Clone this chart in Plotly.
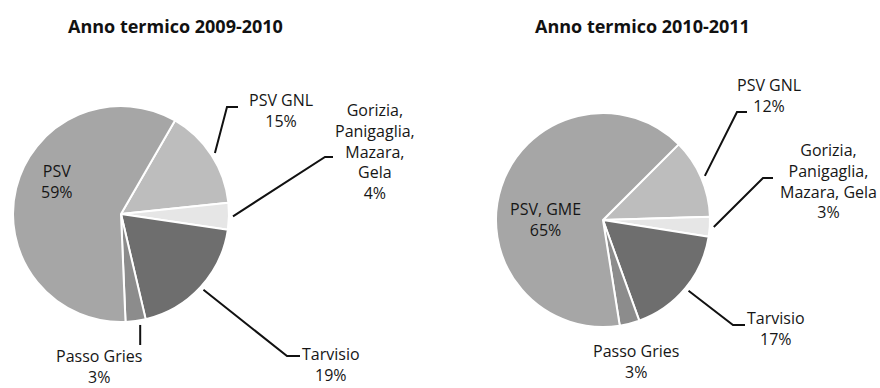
import math
import plotly.graph_objects as go

# Shares of entry points, thermal years 2009-2010 and 2010-2011
labels_0910 = ["PSV GNL", "Gorizia, Panigaglia, Mazara, Gela", "Tarvisio", "Passo Gries", "PSV"]
values_0910 = [15, 4, 19, 3, 59]
labels_1011 = ["PSV GNL", "Gorizia, Panigaglia, Mazara, Gela", "Tarvisio", "Passo Gries", "PSV, GME"]
values_1011 = [12, 3, 17, 3, 65]

titles = ["Anno termico 2009-2010", "Anno termico 2010-2011"]

# Label text per slice (line breaks as printed)
text_0910 = ["PSV GNL<br>15%", "Gorizia,<br>Panigaglia,<br>Mazara,<br>Gela<br>4%",
             "Tarvisio<br>19%", "Passo Gries<br>3%", "PSV<br>59%"]
text_1011 = ["PSV GNL<br>12%", "Gorizia,<br>Panigaglia,<br>Mazara, Gela<br>3%",
             "Tarvisio<br>17%", "Passo Gries<br>3%", "PSV, GME<br>65%"]

colors = ["#bdbdbd", "#e6e6e6", "#6e6e6e", "#8c8c8c", "#a6a6a6"]

W, H = 880, 388
FONT = "Open Sans, Liberation Sans, Arial, sans-serif"

# Pie geometry in pixels: centre x, centre y, radius, rotation
pies = [
    dict(cx=121, cy=214, r=108, rot=30, values=values_0910, labels=labels_0910, text=text_0910,
         title_x=175,
         # label centre (x, y) and leader elbow/end per slice; None = no leader
         lab=[(281, 110), (375, 151), (331, 364), (99, 366), (57, 181)],
         lead=[((227, 107), (238, 107)), ((325, 157), (333, 157)),
               ((287, 356), (300, 356)), ("down", 345), None]),
    dict(cx=603, cy=220, r=107, rot=45, values=values_1011, labels=labels_1011, text=text_1011,
         title_x=642,
         lab=[(769, 95), (828, 181), (776, 328), (636, 361), (545, 219)],
         lead=[((737, 112), (747, 112)), ((763, 178), (773, 178)),
               ((733, 325), (745, 325)), None, None]),
]

fig = go.Figure()
shapes, annotations = [], []

for i, p in enumerate(pies):
    cx, cy, r = p["cx"], p["cy"], p["r"]
    fig.add_trace(go.Pie(
        labels=p["labels"], values=p["values"], sort=False, direction="clockwise",
        rotation=p["rot"], textinfo="none", hoverinfo="label+percent",
        marker=dict(colors=colors, line=dict(color="white", width=2)),
        domain=dict(x=[(cx - r) / W, (cx + r) / W], y=[1 - (cy + r) / H, 1 - (cy - r) / H]),
        showlegend=False,
    ))

    total = sum(p["values"])
    start = p["rot"]
    for v, txt, (lx, ly), lead in zip(p["values"], p["text"], p["lab"], p["lead"]):
        mid = math.radians(start + 360 * v / total / 2)
        start += 360 * v / total
        annotations.append(dict(x=lx, y=ly, xref="x", yref="y", text=txt, showarrow=False,
                                font=dict(family=FONT, size=16, color="#161616"),
                                align="center", xanchor="center", yanchor="middle"))
        if lead is None:
            continue
        sx = cx + (r + 4) * math.sin(mid)
        sy = cy - (r + 4) * math.cos(mid)
        if lead[0] == "down":
            path = f"M{sx + 4},{sy} L{sx + 4},{lead[1]}"
        else:
            (ex, ey), (fx, fy) = lead
            path = f"M{sx},{sy} L{ex},{ey} L{fx},{fy}"
        shapes.append(dict(type="path", xref="x", yref="y", path=path,
                           line=dict(color="#111111", width=2)))

    annotations.append(dict(x=p["title_x"], y=26, xref="x", yref="y",
                            text="<b>" + titles[i] + "</b>", showarrow=False,
                            font=dict(family=FONT, size=18, color="#111111"),
                            xanchor="center", yanchor="middle"))

fig.update_layout(
    width=W, height=H, margin=dict(l=0, r=0, t=0, b=0),
    paper_bgcolor="white", plot_bgcolor="rgba(0,0,0,0)",
    xaxis=dict(range=[0, W], visible=False, domain=[0, 1], fixedrange=True),
    yaxis=dict(range=[H, 0], visible=False, domain=[0, 1], fixedrange=True),
    shapes=shapes, annotations=annotations,
)

fig.write_html("out.html")
